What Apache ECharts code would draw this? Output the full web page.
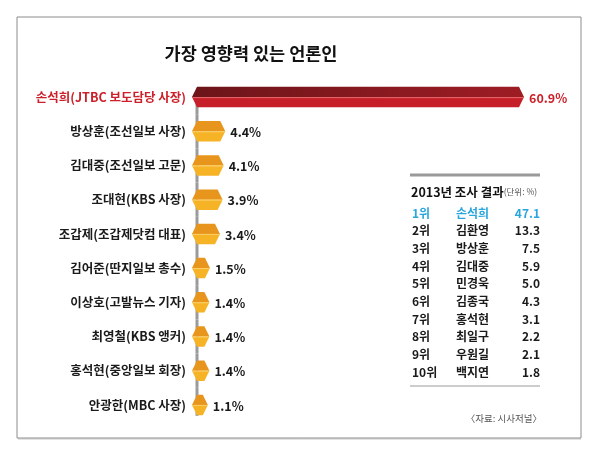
<!DOCTYPE html>
<html>
<head>
<meta charset="utf-8">
<script src="https://cdn.jsdelivr.net/npm/echarts@6/dist/echarts.min.js"></script>
<style>
  html, body { margin: 0; padding: 0; background: #fff; }
  #chart { width: 600px; height: 454px; }
</style>
</head>
<body>
<div id="chart"></div>
<script>
// main ranking
const names = [
  '손석희(JTBC 보도담당 사장)',
  '방상훈(조선일보 사장)',
  '김대중(조선일보 고문)',
  '조대현(KBS 사장)',
  '조갑제(조갑제닷컴 대표)',
  '김어준(딴지일보 총수)',
  '이상호(고발뉴스 기자)',
  '최영철(KBS 앵커)',
  '홍석현(중앙일보 회장)',
  '안광한(MBC 사장)'
];
const shares = [60.9, 4.4, 4.1, 3.9, 3.4, 1.5, 1.4, 1.4, 1.4, 1.1];

// 2013 table
const ranks2013 = ['1위', '2위', '3위', '4위', '5위', '6위', '7위', '8위', '9위', '10위'];
const names2013 = ['손석희', '김환영', '방상훈', '김대중', '민경욱', '김종국', '홍석현', '최일구', '우원길', '백지연'];
const values2013 = ['47.1', '13.3', '7.5', '5.9', '5.0', '4.3', '3.1', '2.2', '2.1', '1.8'];

const FONT = '"Noto Sans CJK KR", "Noto Sans", sans-serif';
const RED = '#cc1f29';

const chart = echarts.init(document.getElementById('chart'));

// frame, title and the 2013 table
const tableTop = 213, rowGap = 17.7;
const tableGraphics = [
  { type: 'rect', shape: { x: 17, y: 17, width: 564, height: 421 },
    style: { fill: 'none', stroke: '#8c8c8c', lineWidth: 1 }, z: 1 },
  { type: 'line', shape: { x1: 18, y1: 439, x2: 581, y2: 439 },
    style: { stroke: '#c8c8c8', lineWidth: 1 } },
  { type: 'text', style: {
      x: 251, y: 53, text: '가장 영향력 있는 언론인', align: 'center', verticalAlign: 'middle',
      font: 'bold 17.5px ' + FONT, fill: '#111' } },
  { type: 'line', shape: { x1: 410, y1: 175, x2: 540, y2: 175 },
    style: { stroke: '#9a9a9a', lineWidth: 3 } },
  { type: 'text', style: {
      x: 411, y: 192, verticalAlign: 'middle',
      text: '{a|2013년 조사 결과}{b|(단위: %)}',
      rich: {
        a: { fontSize: 12.5, fontWeight: 'bold', fontFamily: FONT, fill: '#111' },
        b: { fontSize: 8.5, fontFamily: FONT, fill: '#555' }
      } } },
  { type: 'line', shape: { x1: 410, y1: 386, x2: 540, y2: 386 },
    style: { stroke: '#9a9a9a', lineWidth: 1 } },
  { type: 'text', style: { x: 542, y: 418, text: '〈자료: 시사저널〉', align: 'right', verticalAlign: 'middle',
      font: '9.5px ' + FONT, fill: '#555' } }
];
ranks2013.forEach((r, i) => {
  const y = tableTop + i * rowGap;
  const fill = i === 0 ? '#29a6de' : '#1a1a1a';
  const font = 'bold 12px ' + FONT;
  tableGraphics.push(
    { type: 'text', style: { x: 412, y, text: r, verticalAlign: 'middle', font, fill } },
    { type: 'text', style: { x: 456, y, text: names2013[i], verticalAlign: 'middle', font, fill } },
    { type: 'text', style: { x: 540, y, text: values2013[i], align: 'right', verticalAlign: 'middle', font, fill } }
  );
});

function prism(params, api) {
  const idx = api.value(0);
  const v = api.value(1);
  const p0 = api.coord([0, idx]);
  const p1 = api.coord([v, idx]);
  const h = api.size([0, 1])[1] * 0.6;
  const x0 = p0[0], x1 = p1[0], y = p0[1];
  const lx = x0 - 4, rx = x1 + 6;
  const top = y - h / 2, bot = y + h / 2;
  const isRed = idx === 0;
  const topFill = isRed
    ? new echarts.graphic.LinearGradient(0, 0, 1, 0, [{ offset: 0, color: '#6c1519' }, { offset: 1, color: '#9e1c24' }])
    : '#e8951d';
  const botFill = isRed ? '#c71f29' : '#f6b326';
  const mid = isRed ? '#e46a6e' : '#fbd06a';
  return {
    type: 'group',
    children: [
      { type: 'polygon', shape: { points: [[lx, y], [x0 + 1, top], [x1 + 1, top], [rx, y]] },
        style: { fill: topFill } },
      { type: 'polygon', shape: { points: [[lx, y], [rx, y], [x1 + 1, bot], [x0 + 1, bot]] },
        style: { fill: botFill } },
      { type: 'line', shape: { x1: lx + 1, y1: y + 0.5, x2: rx - 1, y2: y + 0.5 },
        style: { stroke: mid, lineWidth: 1 } },
      { type: 'text', style: {
          x: rx + 5, y: y + 1, text: v + '%', verticalAlign: 'middle',
          font: 'bold 12.5px ' + FONT, fill: isRed ? RED : '#1a1a1a' } }
    ]
  };
}

function spine(params, api) {
  const idx = api.value(0);
  const p = api.coord([0, idx]);
  const step = api.size([0, 1])[1];
  const last = idx === names.length - 1;
  const y1 = idx === 0 ? p[1] : p[1] - step / 2;
  const y2 = last ? p[1] + step * 0.32 : p[1] + step / 2;
  return { type: 'line', shape: { x1: p[0] + 1, y1, x2: p[0] + 1, y2 },
    style: { stroke: '#9b9b9b', lineWidth: 3 } };
}

const barData = shares.map((v, i) => [i, v]);

chart.setOption({
  backgroundColor: '#fff',
  animation: false,
  graphic: tableGraphics,
  grid: { left: 196, right: 82, top: 80, bottom: 32 },
  xAxis: { type: 'value', min: 0, max: 60.9, show: false },
  yAxis: {
    type: 'category',
    data: names,
    inverse: true,
    axisLine: { show: false },
    axisTick: { show: false },
    splitLine: { show: false },
    axisLabel: {
      margin: 10,
      formatter: (val, i) => (i === 0 ? '{r|' + val + '}' : '{n|' + val + '}'),
      rich: {
        r: { color: RED, fontSize: 12.5, fontWeight: 'bold', fontFamily: FONT },
        n: { color: '#1a1a1a', fontSize: 12.5, fontWeight: 'bold', fontFamily: FONT }
      }
    }
  },
  series: [
    { type: 'custom', renderItem: spine, data: barData, z: 1, silent: true },
    { type: 'custom', renderItem: prism, data: barData, z: 2, silent: true }
  ]
});
</script>
</body>
</html>
